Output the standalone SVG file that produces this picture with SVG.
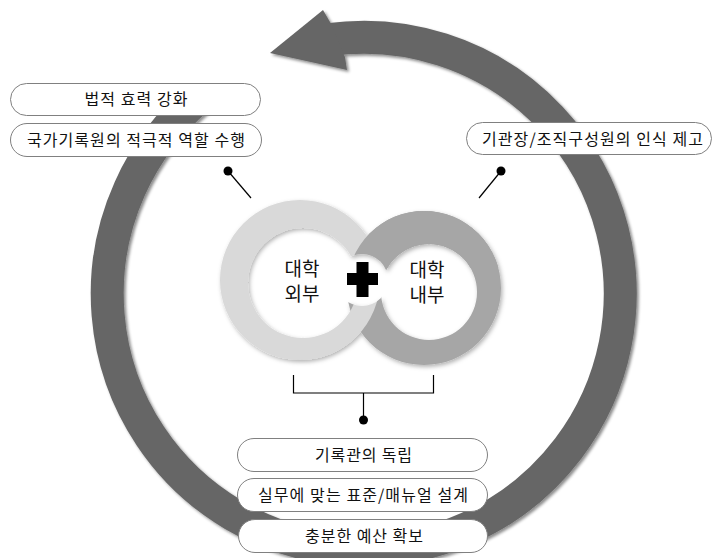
<svg xmlns="http://www.w3.org/2000/svg" width="713" height="558" viewBox="0 0 713 558">
<style>
.box{fill:#fff;stroke:#808080;stroke-width:1}
.t{font-family:"Noto Sans CJK KR","Noto Sans",sans-serif;font-size:16px;fill:#111;text-anchor:middle}
.c{font-family:"Noto Sans CJK KR","Noto Sans",sans-serif;font-size:19px;fill:#111;text-anchor:middle}
.ln{stroke:#000;stroke-width:1.2;fill:none}
</style>
<defs>
<filter id="sh" x="-10%" y="-10%" width="120%" height="120%">
<feDropShadow dx="2" dy="2" stdDeviation="1.5" flood-color="#000" flood-opacity="0.45"/>
</filter>
<filter id="sh2" x="-10%" y="-10%" width="120%" height="120%">
<feDropShadow dx="1.5" dy="2" stdDeviation="2" flood-color="#000" flood-opacity="0.3"/>
</filter>
<clipPath id="topclip"><rect x="0" y="0" width="713" height="268"/></clipPath>
<mask id="gap">
<rect x="0" y="0" width="713" height="558" fill="#fff"/>
<circle cx="362" cy="280" r="26" fill="#000"/>
</mask>
</defs>

<g id="cycle-arrow" filter="url(#sh)" fill="#666">
<path d="M 328.5 39.7 A 256.5 256.5 0 1 1 198.6 97.5" stroke="#666" stroke-width="33" fill="none"/>
<polygon points="330,22 323,10 270,53 347,70 345,57"/>
</g>

<g id="rings" filter="url(#sh2)">
<g mask="url(#gap)">
<path id="ring-right" fill="#a6a6a6" fill-rule="evenodd" d="M347 288 a77 77 0 1 0 154 0 a77 77 0 1 0 -154 0 Z M381 292 a48 48 0 1 0 96 0 a48 48 0 1 0 -96 0 Z"/>
<path id="ring-left" fill="#d9d9d9" fill-rule="evenodd" d="M220 280 a80 80 0 1 0 160 0 a80 80 0 1 0 -160 0 Z M248 283 a55 55 0 1 0 110 0 a55 55 0 1 0 -110 0 Z"/>
<use href="#ring-right" clip-path="url(#topclip)"/>
</g>
</g>

<g id="plus">
<rect x="356.5" y="262" width="12" height="35" fill="#000"/>
<rect x="347" y="273" width="31" height="12" fill="#000"/>
</g>

<g id="outside-label">
<text class="c" x="302" y="276">대학</text>
<text class="c" x="302" y="301">외부</text>
</g>
<g id="inside-label">
<text class="c" x="427" y="277">대학</text>
<text class="c" x="427" y="302">내부</text>
</g>

<g id="connectors">
<line class="ln" x1="228" y1="171" x2="251" y2="198"/>
<circle cx="228" cy="171" r="4.5" fill="#000"/>
<line class="ln" x1="501" y1="171" x2="479" y2="198"/>
<circle cx="501" cy="171" r="4.5" fill="#000"/>
<polyline class="ln" points="293.5,375 293.5,393 433.5,393 433.5,375"/>
<line class="ln" x1="363.5" y1="393" x2="363.5" y2="420"/>
<circle cx="363.5" cy="420" r="4.5" fill="#000"/>
</g>

<g id="box-legal">
<rect class="box" x="10.5" y="83.5" width="250" height="32" rx="16"/>
<text class="t" x="136" y="105" textLength="103" lengthAdjust="spacing">법적 효력 강화</text>
</g>
<g id="box-national">
<rect class="box" x="10.5" y="123.5" width="251" height="33" rx="16.5"/>
<text class="t" x="136" y="145.5" textLength="218" lengthAdjust="spacing">국가기록원의 적극적 역할 수행</text>
</g>
<g id="box-awareness">
<rect class="box" x="466.5" y="122.5" width="245" height="32" rx="16"/>
<text class="t" x="592.5" y="144.5" textLength="221" lengthAdjust="spacing">기관장/조직구성원의 인식 제고</text>
</g>
<g id="box-independence">
<rect class="box" x="237.5" y="438.5" width="250" height="33" rx="16.5"/>
<text class="t" x="363.5" y="460.5" textLength="97" lengthAdjust="spacing">기록관의 독립</text>
</g>
<g id="box-standard">
<rect class="box" x="237.5" y="478.5" width="250" height="33" rx="16.5"/>
<text class="t" x="363" y="500.5" textLength="210" lengthAdjust="spacing">실무에 맞는 표준/매뉴얼 설계</text>
</g>
<g id="box-budget">
<rect class="box" x="238.5" y="519.5" width="249" height="33" rx="16.5"/>
<text class="t" x="364" y="541.5" textLength="118" lengthAdjust="spacing">충분한 예산 확보</text>
</g>
</svg>
